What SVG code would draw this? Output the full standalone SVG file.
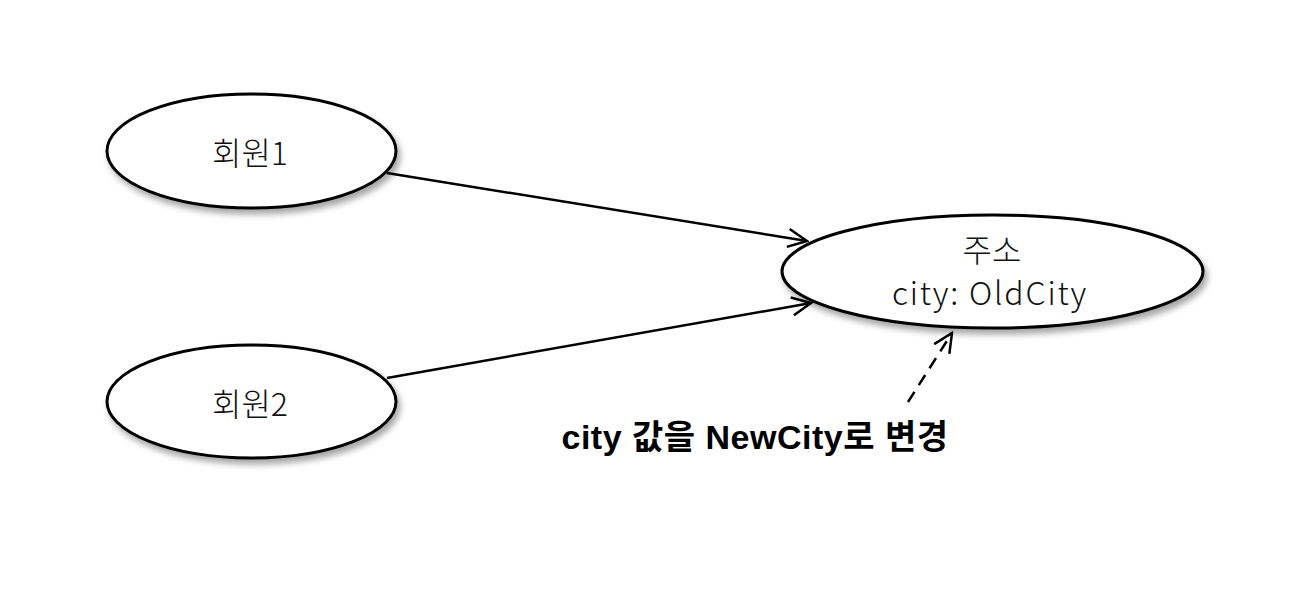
<svg xmlns="http://www.w3.org/2000/svg" width="1296" height="603" viewBox="0 0 1296 603">
<defs>
<filter id="sh" x="-20%" y="-30%" width="150%" height="170%">
<feDropShadow dx="3" dy="5" stdDeviation="3" flood-color="#000" flood-opacity="0.35"/>
</filter>
<marker id="arr2" viewBox="0 0 24 24" refX="22" refY="12" markerWidth="24" markerHeight="24" markerUnits="userSpaceOnUse" orient="auto">
<path d="M3,3 L22,12 L3,21" fill="none" stroke="#000" stroke-width="2.5"/>
</marker>
</defs>
<style>
.node{fill:#fff;stroke:#000;stroke-width:3;filter:url(#sh)}
.lbl{font-family:"Noto Sans CJK KR","Noto Sans",sans-serif;font-weight:300;font-size:32px;fill:#111;text-anchor:middle}
.edge{stroke:#000;stroke-width:2.5;fill:none}
.note{font-family:"Liberation Sans","Noto Sans CJK KR",sans-serif;font-weight:700;font-size:34px;letter-spacing:0.5px;fill:#000;text-anchor:middle}
</style>
<rect width="1296" height="603" fill="#fff"/>
<g id="member1">
<ellipse class="node" cx="251.5" cy="151" rx="144.5" ry="57"/>
<text class="lbl" x="250" y="165">회원1</text>
</g>
<g id="member2">
<ellipse class="node" cx="251.5" cy="401.5" rx="144.5" ry="56.5"/>
<text class="lbl" x="250" y="416">회원2</text>
</g>
<g id="address">
<ellipse class="node" cx="992.5" cy="271.5" rx="210.5" ry="56.5"/>
<text class="lbl" x="992" y="262">주소</text>
<text class="lbl" x="990" y="305" letter-spacing="1.8">city: OldCity</text>
</g>
<g id="connectors">
<line class="edge" x1="387" y1="173" x2="807" y2="241" marker-end="url(#arr2)"/>
<line class="edge" x1="387" y1="378" x2="811" y2="303" marker-end="url(#arr2)"/>
<line class="edge" x1="908" y1="402" x2="952" y2="333" stroke-dasharray="12,8" marker-end="url(#arr2)"/>
</g>
<g id="note">
<text class="note" x="755" y="449">city 값을 NewCity로 변경</text>
</g>
</svg>
